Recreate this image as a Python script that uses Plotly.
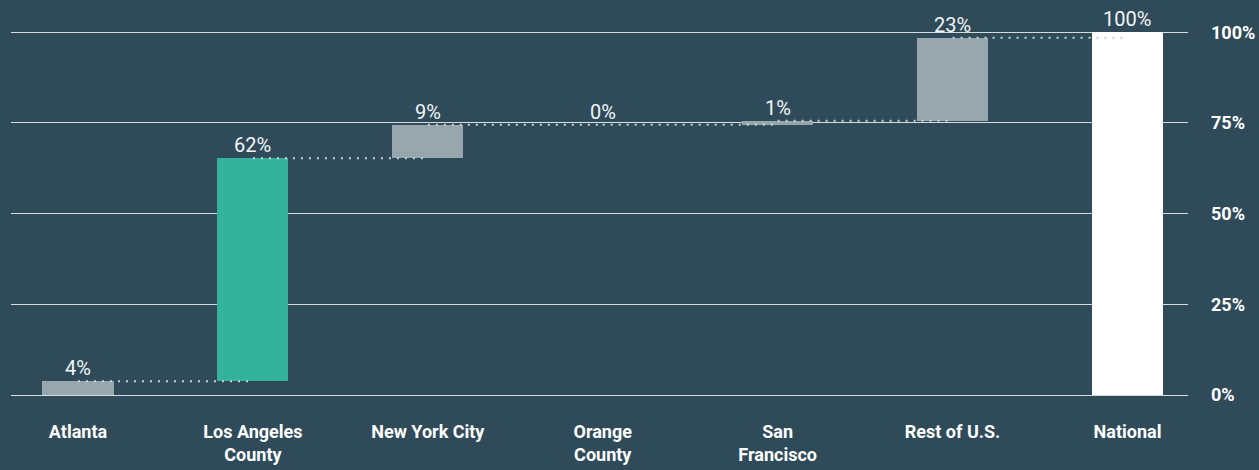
import plotly.graph_objects as go

# ---- data ----
categories = ["Atlanta", "Los Angeles<br>County", "New York City", "Orange<br>County",
              "San<br>Francisco", "Rest of U.S.", "National"]
changes = [3.8, 61.5, 9.2, 0.0, 1.1, 22.9]   # % share, incremental steps
total_value = 100.0
label_texts = ["4%", "62%", "9%", "0%", "1%", "23%", "100%"]
y_tickvals = [0, 25, 50, 75, 100]
y_ticktext = ["0%", "25%", "50%", "75%", "100%"]

BG = "#2f4b5a"
GRAY = "#98a6ad"
TEAL = "#33b39b"
WHITE = "#ffffff"
GRID = "#d5dbde"
DOT = "#c9d1d5"

# compute bases / tops
bases, heights = [], []
cum = 0.0
for v in changes:
    bases.append(cum)
    heights.append(v)
    cum += v
bases.append(0.0)
heights.append(total_value)
tops = [b + h for b, h in zip(bases, heights)]

colors = [GRAY, TEAL, GRAY, GRAY, GRAY, GRAY, WHITE]
xs = list(range(len(categories)))

fig = go.Figure()
fig.add_trace(go.Bar(x=xs, y=heights, base=bases, width=0.406,
                     marker=dict(color=colors, line=dict(width=0)),
                     hoverinfo="skip"))

# dotted connectors from centre of bar i to centre of bar i+1 at cumulative level
cx, cy = [], []
for i in range(len(categories) - 1):
    cx += [xs[i], xs[i + 1], None]
    cy += [tops[i], tops[i], None]
fig.add_trace(go.Scatter(x=cx, y=cy, mode="lines",
                         line=dict(color=DOT, width=2, dash="2px,6px"),
                         hoverinfo="skip"))

for i, t in enumerate(label_texts):
    fig.add_annotation(x=xs[i], y=tops[i], text=t, showarrow=False,
                       xanchor="center", yanchor="bottom", yshift=-1,
                       font=dict(family="Roboto", size=20, color="#f2f4f5"))

fig.update_layout(
    width=1259, height=470,
    margin=dict(l=11, r=71, t=0, b=75),
    paper_bgcolor=BG, plot_bgcolor=BG,
    showlegend=False, hovermode=False,
    bargap=0,
    xaxis=dict(range=[-0.383, 6.346], tickvals=xs, ticktext=categories,
               showgrid=False, zeroline=False, showline=False, ticks="",
               tickfont=dict(family="Roboto", size=18, color=WHITE, weight="bold"),
               ticklabelstandoff=24, fixedrange=True),
    yaxis=dict(range=[0, 108.9], side="right", tickvals=y_tickvals, ticktext=y_ticktext,
               showgrid=True, gridcolor=GRID, gridwidth=1,
               zeroline=True, zerolinecolor=GRID, zerolinewidth=1,
               showline=False, ticks="",
               tickfont=dict(family="Roboto", size=18, color=WHITE, weight="bold"),
               ticklabelstandoff=22, fixedrange=True),
)

fig.write_html("out.html", config={"displayModeBar": False},
               post_script="document.body.style.margin='0';document.body.style.overflow='hidden';")
